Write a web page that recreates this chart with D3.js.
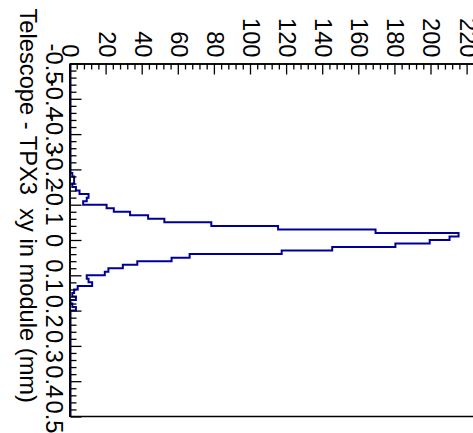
<!DOCTYPE html>
<html>
<head>
<meta charset="utf-8">
<script src="https://cdn.jsdelivr.net/npm/d3@7"></script>
<style>
  html, body { margin: 0; padding: 0; background: #fff; }
  svg { display: block; }
  text { font-family: "Liberation Sans", Arial, Helvetica, sans-serif; fill: #000; }
  .axis-title { white-space: pre; }
</style>
</head>
<body>
<svg id="chart" width="473" height="433"></svg>
<script>
// Histogram of the telescope-to-TPX3 residual in the module plane (mm).
// Bins are 0.01 mm wide on [-0.5, 0.5]; bins not listed are empty.
const binLowEdges = [
  -0.20, -0.19, -0.18, -0.17, -0.16, -0.15, -0.14, -0.13, -0.12, -0.11,
  -0.10, -0.09, -0.08, -0.07, -0.06, -0.05, -0.04, -0.03, -0.02, -0.01,
   0.00,  0.01,  0.02,  0.03,  0.04,  0.05,  0.06,  0.07,  0.08,  0.09,
   0.10,  0.11,  0.12,  0.13,  0.14,  0.15,  0.16,  0.17,  0.18,  0.19
];
const binCounts = [
    0,   1,   2,   2,   1,   3,   5,  10,   9,   7,
   20,  24,  33,  43,  52,  78, 115, 169, 215, 210,
  199, 180, 145, 117,  66,  56,  37,  29,  21,  19,
    9,  10,  12,   4,   2,   1,   3,   0,   1,   3
];
const binWidth = 0.01;
const axisRange = [-0.5, 0.5];
const countRange = [0, 226];

const posMajorTicks = [-0.5, -0.4, -0.3, -0.2, -0.1, 0, 0.1, 0.2, 0.3, 0.4, 0.5];
const posMinorTicks = [
  -0.48, -0.46, -0.44, -0.42, -0.38, -0.36, -0.34, -0.32, -0.28, -0.26, -0.24, -0.22,
  -0.18, -0.16, -0.14, -0.12, -0.08, -0.06, -0.04, -0.02, 0.02, 0.04, 0.06, 0.08,
  0.12, 0.14, 0.16, 0.18, 0.22, 0.24, 0.26, 0.28, 0.32, 0.34, 0.36, 0.38,
  0.42, 0.44, 0.46, 0.48
];
const posTickLabels = ["-0.5", "-0.4", "-0.3", "-0.2", "-0.1", "0", "0.1", "0.2", "0.3", "0.4", "0.5"];
const countMajorTicks = [0, 20, 40, 60, 80, 100, 120, 140, 160, 180, 200, 220];
const countMinorTicks = [
  4, 8, 12, 16, 24, 28, 32, 36, 44, 48, 52, 56, 64, 68, 72, 76, 84, 88, 92, 96,
  104, 108, 112, 116, 124, 128, 132, 136, 144, 148, 152, 156, 164, 168, 172, 176,
  184, 188, 192, 196, 204, 208, 212, 216, 224
];
const xTitle = "Telescope - TPX3  xy in module (mm)";

const svg = d3.select("#chart");
const W = 473;

// The plot is laid out as an ordinary histogram (position along x, counts up)
// and then turned a quarter turn clockwise as a whole.
const g = svg.append("g").attr("transform", `translate(${W},0) rotate(90)`);

const x = d3.scaleLinear().domain(axisRange).range([63.5, 416.5]);
const y = d3.scaleLinear().domain([0, 220]).range([402.5, 402.5 - 220 * 1.805]);

// Outline of the histogram, including the empty bins on both sides.
const pts = [[axisRange[0], 0]];
binLowEdges.forEach((lo, i) => pts.push([lo, binCounts[i]]));
pts.push([binLowEdges[binLowEdges.length - 1] + binWidth, 0]);
pts.push([axisRange[1], 0]);

const line = d3.line()
  .x(d => x(d[0]))
  .y(d => y(d[1]))
  .curve(d3.curveStepAfter);

g.append("path")
  .datum(pts)
  .attr("d", line)
  .attr("fill", "none")
  .attr("stroke", "#000099")
  .attr("stroke-width", 2)
  .attr("stroke-linejoin", "miter");

// Frame edge opposite the count axis
g.append("line")
  .attr("x1", x(axisRange[1])).attr("x2", x(axisRange[1]))
  .attr("y1", y(0)).attr("y2", y(countRange[1]))
  .attr("stroke", "#000").attr("stroke-width", 1.5);

const labelSize = 23.7;

// Position axis: minor ticks, then major ticks with labels
const xMinor = d3.axisBottom(x).tickValues(posMinorTicks).tickSize(-6).tickSizeOuter(0).tickFormat("");
const xMajor = d3.axisBottom(x).tickValues(posMajorTicks).tickSize(-11).tickSizeOuter(0)
  .tickPadding(8)
  .tickFormat((d, i) => posTickLabels[i]);

const gxMinor = g.append("g").attr("transform", `translate(0,${y(0)})`).call(xMinor);
const gx = g.append("g").attr("transform", `translate(0,${y(0)})`).call(xMajor);
[gxMinor, gx].forEach(a => {
  a.selectAll("path.domain").attr("stroke", "#000").attr("stroke-width", 1.5);
  a.selectAll(".tick line").attr("stroke", "#000").attr("stroke-width", 1.3);
});
gx.selectAll(".tick text")
  .attr("font-size", labelSize)
  .attr("font-family", "Liberation Sans, Arial, Helvetica, sans-serif");

// Count axis
const yScaleFull = d3.scaleLinear().domain(countRange).range([y(countRange[0]), y(countRange[1])]);
const yMinor = d3.axisLeft(yScaleFull).tickValues(countMinorTicks).tickSize(-6).tickSizeOuter(0).tickFormat("");
const yMajor = d3.axisLeft(yScaleFull).tickValues(countMajorTicks).tickSize(-11).tickSizeOuter(0)
  .tickPadding(6)
  .tickFormat(d3.format("d"));

const gyMinor = g.append("g").attr("transform", `translate(${x(axisRange[0])},0)`).call(yMinor);
const gy = g.append("g").attr("transform", `translate(${x(axisRange[0])},0)`).call(yMajor);
[gyMinor, gy].forEach(a => {
  a.selectAll("path.domain").attr("stroke", "#000").attr("stroke-width", 1.5);
  a.selectAll(".tick line").attr("stroke", "#000").attr("stroke-width", 1.3);
});
gy.selectAll(".tick text")
  .attr("font-size", labelSize)
  .attr("font-family", "Liberation Sans, Arial, Helvetica, sans-serif");

// Axis title, aligned to the end of the position axis
g.append("text")
  .attr("class", "axis-title")
  .attr("x", 403)
  .attr("y", 453)
  .attr("text-anchor", "end")
  .attr("font-size", 23.7)
  .text(xTitle);
</script>
</body>
</html>
